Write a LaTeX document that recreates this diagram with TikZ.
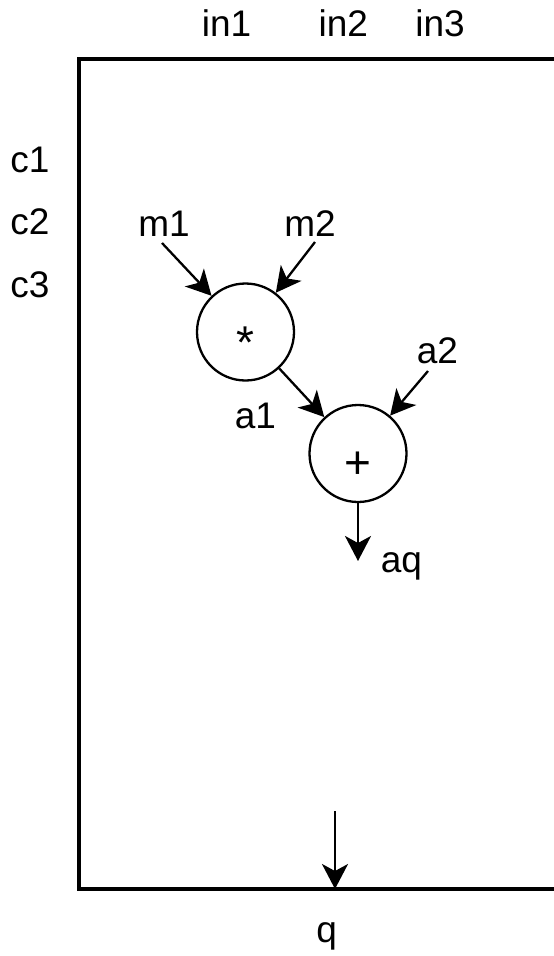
\documentclass[tikz,border=0pt]{standalone}
\usepackage{fontspec}
\setmainfont{Liberation Sans}
\usetikzlibrary{arrows.meta}
\begin{document}
\begin{tikzpicture}[x=1pt,y=-1pt,
  lbl/.style={inner sep=0pt,anchor=base,font=\fontsize{37}{42}\selectfont},
  symb/.style={inner sep=0pt,anchor=base,font=\fontsize{46}{52}\selectfont},
  opnode/.style={draw,circle,line width=2.3pt,minimum size=97pt,inner sep=0pt},
  arr/.style={line width=2.3pt,-{Stealth[length=25pt,width=26pt,inset=7pt]}}]
\useasboundingbox (0,0) rectangle (554,956);
\clip (0,0) rectangle (554,956);
\draw[line width=3.5pt] (600,59) -- (79,59) -- (79,889) -- (600,889);
\node[lbl] (in1) at (226.5,36) {in1};
\node[lbl] (in2) at (343.3,36) {in2};
\node[lbl] (in3) at (440,36) {in3};
\node[lbl] (c1) at (30,172) {c1};
\node[lbl] (c2) at (30,234) {c2};
\node[lbl] (c3) at (30,297) {c3};
\node[lbl] (m1) at (164,236) {m1};
\node[lbl] (m2) at (310,236) {m2};
\node[opnode] (mul) at (245.5,332) {};
\node[opnode] (add) at (358,453.5) {};
\node[symb] (mulsym) at (245.5,358) {*};
\node[symb] (addsym) at (357.5,478.5) {+};
\node[lbl] (a1) at (255.5,428) {a1};
\node[lbl] (a2) at (437.5,363) {a2};
\node[lbl] (aq) at (401.5,572) {aq};
\node[lbl] (q) at (326.7,942.6) {q};
\coordinate (m1s) at (162,243);
\coordinate (m2s) at (315,242);
\coordinate (a2s) at (428,371);
\coordinate (aqe) at (358,561);
\coordinate (qs) at (335,811);
\coordinate (qe) at (335,889);
\draw[arr] (m1s) -- (mul);
\draw[arr] (m2s) -- (mul);
\draw[arr] (mul) -- (add);
\draw[arr] (a2s) -- (add);
\draw[arr] (add.south) -- (aqe);
\draw[arr] (qs) -- (qe);
\end{tikzpicture}
\end{document}
